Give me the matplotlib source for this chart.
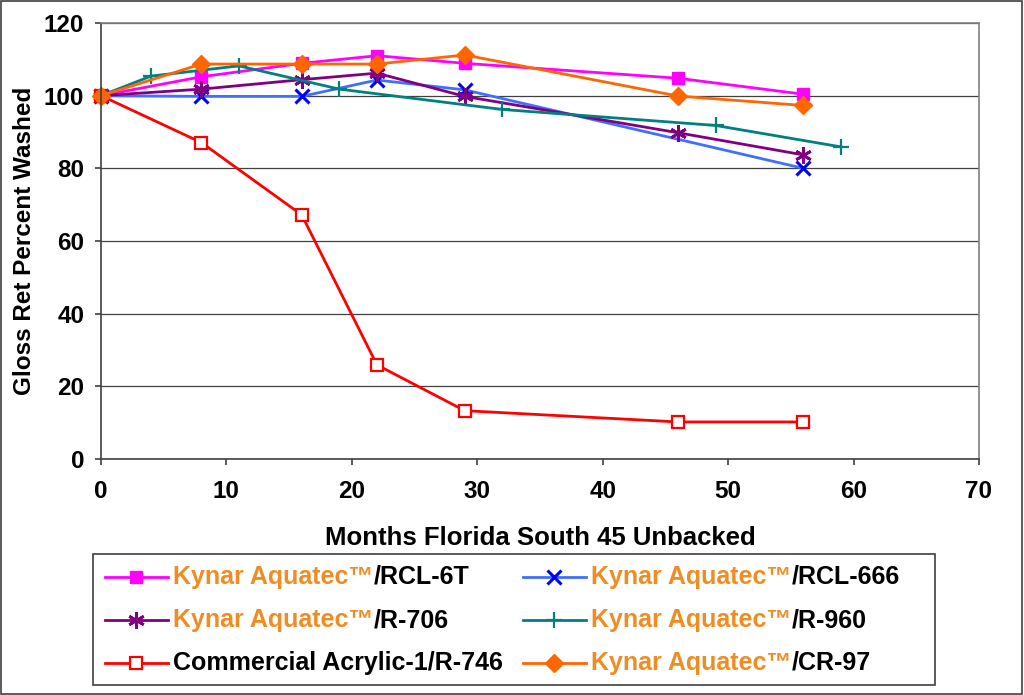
import matplotlib
matplotlib.use("Agg")
import matplotlib.pyplot as plt
from matplotlib.lines import Line2D
from matplotlib.patches import Rectangle
from matplotlib.offsetbox import TextArea, HPacker, DrawingArea, AnchoredOffsetbox

plt.rcParams['font.family'] = ['Liberation Sans', 'DejaVu Sans']
plt.rcParams['font.weight'] = 'bold'

# данные
x_main = [0, 8, 16, 22, 29, 46, 56]
rcl_6t = [100, 105.2, 108.9, 111.0, 108.9, 104.8, 100.4]
x_666 = [0, 8, 16, 22, 29, 56]
rcl_666 = [100, 99.8, 99.8, 104.3, 101.6, 80.0]
r_706 = [100, 101.8, 104.4, 106.2, 99.8, 89.8, 83.7]
x_960 = [0, 4, 11, 19, 32, 49, 59]
r_960 = [100, 105.4, 108.2, 101.8, 96.2, 91.8, 85.9]
r_746 = [100, 87.1, 67.2, 25.9, 13.3, 10.2, 10.2]
cr_97 = [100, 108.7, 108.7, 108.7, 111.2, 99.9, 97.3]

prefix = "Kynar Aquatec\u2122"
suffixes = ["/RCL-6T", "/RCL-666", "/R-706", "/R-960", "Commercial Acrylic-1/R-746", "/CR-97"]

orange_txt = '#EF8C22'
W, H = 1024, 695

styles = [
    dict(color='#FF00FF', marker='s', ms=9, mfc='#FF00FF', mec='#FF00FF', mew=1),
    dict(color='#3F6FFF', marker='x', ms=10, mfc='#0000FF', mec='#0000FF', mew=2.2),
    dict(color='#800080', marker=(6, 2, 0), ms=12, mfc='#800080', mec='#800080', mew=2),
    dict(color='#008080', marker='+', ms=12, mfc='#008080', mec='#008080', mew=1.6),
    dict(color='#FF0000', marker='s', ms=8, mfc='white', mec='#FF0000', mew=1.6),
    dict(color='#FF6600', marker='D', ms=9, mfc='#FF6600', mec='#FF6600', mew=1),
]

fig = plt.figure(figsize=(W / 100, H / 100), dpi=100)
ax = fig.add_axes([101 / W, 1 - 459 / H, (979 - 101) / W, (459 - 23) / H])

series = [(x_main, rcl_6t), (x_666, rcl_666), (x_main, r_706), (x_960, r_960), (x_main, r_746), (x_main, cr_97)]
for (xs, ys), st in zip(series, styles):
    ax.plot(xs, ys, lw=2, color=st['color'], marker=st['marker'], markersize=st['ms'],
            markerfacecolor=st['mfc'], markeredgecolor=st['mec'], markeredgewidth=st['mew'],
            clip_on=False)

ax.set_xlim(0, 70)
ax.set_ylim(0, 120)
ax.set_xticks(range(0, 71, 10))
ax.set_yticks(range(0, 121, 20))
ax.yaxis.grid(True, color='#404040', lw=0.9)
ax.set_axisbelow(True)
for s in ax.spines.values():
    s.set_color('#808080')
    s.set_linewidth(1.2)
ax.spines['left'].set_color('#404040')
ax.spines['bottom'].set_color('#404040')
ax.tick_params(direction='out', length=4, width=1.2, color='#404040', labelsize=17.5)
ax.tick_params(axis='x', pad=11)
ax.tick_params(axis='y', pad=8)
for lbl in ax.get_xticklabels() + ax.get_yticklabels():
    lbl.set_fontweight('bold')
ax.set_xlabel("Months Florida South 45 Unbacked", fontsize=18.5, fontweight='bold', labelpad=16.5)
ax.set_ylabel("Gloss Ret Percent Washed", fontsize=17.5, fontweight='bold', labelpad=6)

# легенда с двухцветным текстом
fig.add_artist(Rectangle((93 / W, 1 - 685 / H), (935 - 93) / W, (685 - 554) / H,
                         transform=fig.transFigure, fill=False, edgecolor='#404040', lw=1.2))

def entry(st, idx):
    # размеры DrawingArea в пунктах
    da = DrawingArea(45, 12, 0, 0)
    da.add_artist(Line2D([0, 45], [6, 6], color=st['color'], lw=2))
    da.add_artist(Line2D([22.5], [6], color=st['color'], marker=st['marker'], markersize=st['ms'],
                         markerfacecolor=st['mfc'], markeredgecolor=st['mec'], markeredgewidth=st['mew']))
    txt = [TextArea(suffixes[idx], textprops=dict(color='black', fontsize=18, fontweight='bold'))]
    if idx != 4:
        txt.insert(0, TextArea(prefix, textprops=dict(color=orange_txt, fontsize=18, fontweight='bold')))
    label = HPacker(children=txt, align='baseline', pad=0, sep=0)
    return HPacker(children=[da, label], align='center', pad=0, sep=4)

col_x = [105, 523]
row_y = [577, 620, 663]
for i in range(6):
    cx = col_x[i % 2]
    cy = row_y[i // 2]
    ab = AnchoredOffsetbox(loc='center left', child=entry(styles[i], i), pad=0, borderpad=0,
                           frameon=False, bbox_to_anchor=(cx / W, 1 - cy / H),
                           bbox_transform=fig.transFigure)
    fig.add_artist(ab)

# рамка вокруг рисунка
fig.add_artist(Rectangle((0.001, 0.002), 0.997, 0.996, transform=fig.transFigure,
                         fill=False, edgecolor='#404040', lw=1.2))

fig.savefig("out.png", dpi=100)
